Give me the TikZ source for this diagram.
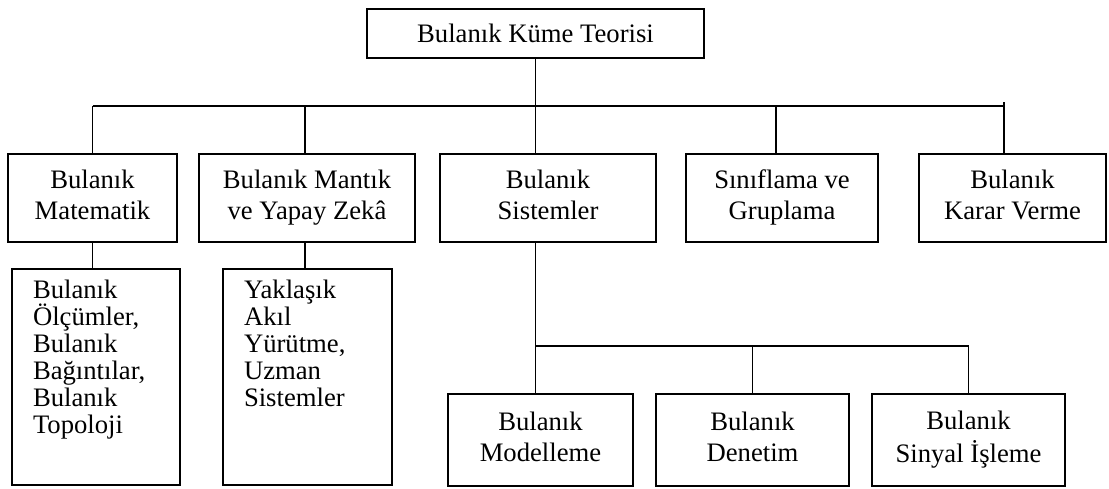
\documentclass[tikz,border=0pt]{standalone}
\usepackage{fontspec}
\setmainfont{Liberation Serif}
\newdimen\pxu \pxu=0.45pt
\tikzset{
  kutu/.style={draw, line width=0.6pt, minimum height=88\pxu, align=center, inner sep=0pt,
    font=\fontsize{12}{13.95}\selectfont},
  liste/.style={draw, line width=0.6pt, inner sep=0pt, text width=#1, align=left,
    text height=13.05pt, text depth=84.15pt, font=\fontsize{12}{12.15}\selectfont},
  hat/.style={line width=0.5pt}
}
\begin{document}
\begin{tikzpicture}[x=0.45pt, y=-0.45pt]
\useasboundingbox (0,0) rectangle (1109,488);
% ust kutu
\node[kutu, minimum width=337\pxu, minimum height=49\pxu] (ust) at (535.5,33.5) {Bulanık Küme Teorisi};
% birinci sira
\node[kutu, minimum width=169\pxu] (mat) at (92.5,198) {Bulanık\strut\\Matematik\strut};
\node[kutu, minimum width=216\pxu] (man) at (307,198) {Bulanık Mantık\strut\\ve Yapay Zekâ\strut};
\node[kutu, minimum width=216\pxu] (sis) at (548,198) {Bulanık\strut\\Sistemler\strut};
\node[kutu, minimum width=192\pxu] (sin) at (782,198) {Sınıflama ve\strut\\Gruplama\strut};
\node[kutu, minimum width=187\pxu] (kar) at (1012.5,198) {Bulanık\strut\\Karar Verme\strut};
% ikinci sira
\node[liste=168\pxu] (olc) at (96,377) {\leftskip=21\pxu Bulanık\\Ölçümler,\\Bulanık\\Bağıntılar,\\Bulanık\\Topoloji\par};
\node[liste=169\pxu] (yak) at (307.5,377) {\leftskip=21\pxu Yaklaşık\\Akıl\\Yürütme,\\Uzman\\Sistemler\par};
\node[kutu, minimum width=185\pxu, minimum height=92\pxu] (mod) at (540.5,440) {Bulanık\strut\\Modelleme\strut};
\node[kutu, minimum width=193\pxu, minimum height=92\pxu] (den) at (752.5,440) {Bulanık\strut\\Denetim\strut};
\node[kutu, minimum width=193\pxu, minimum height=92\pxu] (isl) at (968.5,440) {Bulanık\strut\\Sinyal İşleme\strut};
% baglantilar
\coordinate (bus) at (0,106);
\coordinate (alt) at (0,346);
\coordinate (k2) at ([xshift=-2\pxu]man.north);
\coordinate (k4) at ([xshift=-6\pxu]sin.north);
\coordinate (k5) at ([xshift=-8.5\pxu]kar.north);
\draw[hat] (ust.south) -- (ust.south |- sis.north);
\draw[hat] (mat.north |- bus) -- (k5 |- bus);
\draw[hat] (mat.north) -- (mat.north |- bus);
\draw[hat] (k2) -- (k2 |- bus);
\draw[hat] (k4) -- (k4 |- bus);
\draw[hat] (k5) -- ++(0,-51);
\draw[hat] (mat.south) -- (mat.south |- olc.north);
\draw[hat] (k2 |- man.south) -- (k2 |- yak.north);
\draw[hat] (ust.south |- sis.south) -- (ust.south |- mod.north);
\draw[hat] (ust.south |- alt) -- (isl.north |- alt);
\draw[hat] (den.north) -- (den.north |- alt);
\draw[hat] (isl.north) -- (isl.north |- alt);
\end{tikzpicture}
\end{document}
